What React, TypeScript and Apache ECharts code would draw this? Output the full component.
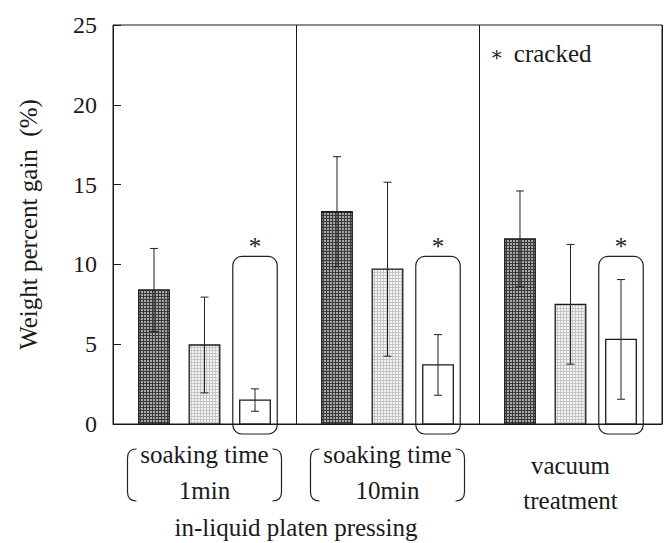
import React, { useEffect, useRef } from "react";
import * as echarts from "echarts";

// ---- data ----
const groups = ["soaking time 1min", "soaking time 10min", "vacuum treatment"];
const darkMean = [8.4, 13.3, 11.6];
const darkSd = [2.6, 3.45, 3.0];
const lightMean = [4.95, 9.7, 7.5];
const lightSd = [3.0, 5.45, 3.75];
const whiteMean = [1.5, 3.7, 5.3];
const whiteSd = [0.7, 1.9, 3.75];
const crackedBoxTop = 10.5;
const yTicks = [0, 5, 10, 15, 20, 25];
const labelLines: string[][] = [
  ["soaking time", "1min"],
  ["soaking time", "10min"],
  ["vacuum", "treatment"],
];
const bracketed = [true, true, false];
const groupTitle = "in-liquid platen pressing";
const yTitle = "Weight percent gain  (%)";

const FONT = "Liberation Serif";
const FS = 25;
const INK = "#1a1a1a";
const OFFSETS = [-0.276, 0, 0.276];
const BAR_W = 0.167;

function makePattern(bg: string, dot: string) {
  const c = document.createElement("canvas");
  c.width = 3;
  c.height = 3;
  const ctx = c.getContext("2d")!;
  ctx.fillStyle = bg;
  ctx.fillRect(0, 0, 3, 3);
  ctx.fillStyle = dot;
  ctx.fillRect(0, 0, 2, 2);
  return { image: c.toDataURL(), repeat: "repeat", imageWidth: 3, imageHeight: 3 } as any;
}

function txt(text: string, x: number, y: number, extra: any = {}) {
  return {
    type: "text",
    style: {
      text,
      x,
      y,
      align: "center",
      verticalAlign: "middle",
      fontFamily: FONT,
      fontSize: FS,
      fill: INK,
      ...extra,
    },
  };
}

function barSeries(idx: number, means: number[], sds: number[], fill: any, cracked: boolean) {
  return {
    type: "custom",
    clip: false,
    data: means.map((m, i) => [i, m, sds[i]]),
    renderItem: (params: any, api: any) => {
      const i = api.value(0);
      const m = api.value(1);
      const sd = api.value(2);
      const band = api.size([1, 0])[0];
      const base = api.coord([i, 0]);
      const cx = base[0] + OFFSETS[idx] * band;
      const w = BAR_W * band;
      const y0 = base[1];
      const ym = api.coord([i, m])[1];
      const yh = api.coord([i, m + sd])[1];
      const yl = api.coord([i, m - sd])[1];
      const cap = 4;
      const children: any[] = [
        {
          type: "rect",
          shape: { x: cx - w / 2, y: ym, width: w, height: y0 - ym },
          style: { fill, stroke: INK, lineWidth: 1.3 },
        },
        { type: "line", shape: { x1: cx, y1: yh, x2: cx, y2: yl }, style: { stroke: "#222", lineWidth: 1 } },
        { type: "line", shape: { x1: cx - cap, y1: yh, x2: cx + cap, y2: yh }, style: { stroke: "#222", lineWidth: 1 } },
        { type: "line", shape: { x1: cx - cap, y1: yl, x2: cx + cap, y2: yl }, style: { stroke: "#222", lineWidth: 1 } },
      ];
      if (cracked) {
        const bw = 0.243 * band;
        const top = api.coord([i, crackedBoxTop])[1];
        children.push({
          type: "rect",
          shape: { x: cx - bw / 2, y: top, width: bw, height: y0 + 10 - top, r: 9 },
          style: { fill: "none", stroke: "#222", lineWidth: 1.2 },
        });
        children.push(txt("*", cx, top - 22, { verticalAlign: "top", fill: "#222" }));
      }
      return { type: "group", children };
    },
    z: 3,
  };
}

function labelSeries() {
  return {
    type: "custom",
    clip: false,
    data: groups.map((_, i) => [i]),
    renderItem: (params: any, api: any) => {
      const i = api.value(0);
      const base = api.coord([i, 0]);
      const cx = base[0];
      const y0 = base[1];
      const children: any[] = [];
      const lines = labelLines[i];
      if (bracketed[i]) {
        children.push(txt(lines[0], cx, y0 + 30));
        children.push(txt(lines[1], cx, y0 + 66));
        const top = y0 + 25;
        const bot = y0 + 77;
        const lx = cx - 77;
        const rx = cx + 77;
        children.push({
          type: "path",
          shape: { pathData: `M ${lx + 9} ${top} Q ${lx} ${top} ${lx} ${top + 9} L ${lx} ${bot - 9} Q ${lx} ${bot} ${lx + 9} ${bot}` },
          style: { fill: "none", stroke: "#222", lineWidth: 1.2 },
        });
        children.push({
          type: "path",
          shape: { pathData: `M ${rx - 9} ${top} Q ${rx} ${top} ${rx} ${top + 9} L ${rx} ${bot - 9} Q ${rx} ${bot} ${rx - 9} ${bot}` },
          style: { fill: "none", stroke: "#222", lineWidth: 1.2 },
        });
      } else {
        children.push(txt(lines[0], cx, y0 + 41));
        children.push(txt(lines[1], cx, y0 + 76));
      }
      if (i === 0) {
        const half = api.size([1, 0])[0] / 2;
        children.push(txt(groupTitle, cx + half, y0 + 103));
      }
      return { type: "group", children };
    },
    z: 2,
  };
}

export default function App() {
  const ref = useRef<HTMLDivElement>(null);
  useEffect(() => {
    if (!ref.current) return;
    const chart = echarts.init(ref.current, undefined, { renderer: "svg" });
    const darkFill = makePattern("#3a3a3a", "#a8a8a8");
    const lightFill = makePattern("#c4c4c4", "#f4f4f4");
    chart.setOption({
      animation: false,
      backgroundColor: "#fff",
      textStyle: { fontFamily: FONT },
      grid: { left: 113, right: 6, top: 25, bottom: 119, show: true, borderColor: INK, borderWidth: 1, backgroundColor: "transparent" },
      xAxis: {
        type: "category",
        data: groups,
        axisLine: { show: true, lineStyle: { color: INK, width: 1 } },
        axisTick: { show: false },
        axisLabel: { show: false },
        splitLine: { show: true, lineStyle: { color: INK, width: 1 } },
      },
      yAxis: {
        type: "value",
        min: 0,
        max: 25,
        interval: 5,
        name: yTitle,
        nameLocation: "middle",
        nameGap: 72,
        nameRotate: 90,
        nameTextStyle: { fontFamily: FONT, fontSize: FS, color: INK },
        axisLine: { show: true, lineStyle: { color: INK, width: 1 } },
        axisTick: { show: true, inside: true, length: 8, lineStyle: { color: INK } },
        axisLabel: {
          fontFamily: FONT,
          fontSize: 24,
          color: INK,
          margin: 16,
          formatter: (v: number) => (yTicks.includes(v) ? String(v) : ""),
        },
        splitLine: { show: false },
      },
      graphic: [
        {
          type: "text",
          left: 490,
          top: 41,
          style: {
            text: "{a|∗} cracked",
            fontFamily: FONT,
            fontSize: FS,
            fill: INK,
            rich: { a: { fontFamily: "DejaVu Serif", fontSize: 20, fill: INK, padding: [0, 4, 0, 0] } },
          },
        },
      ],
      series: [
        barSeries(0, darkMean, darkSd, darkFill, false),
        barSeries(1, lightMean, lightSd, lightFill, false),
        barSeries(2, whiteMean, whiteSd, "#fff", true),
        labelSeries(),
      ],
    });
    return () => chart.dispose();
  }, []);
  return <div ref={ref} style={{ width: 668, height: 543, position: "absolute", left: 0, top: 0 }} />;
}
